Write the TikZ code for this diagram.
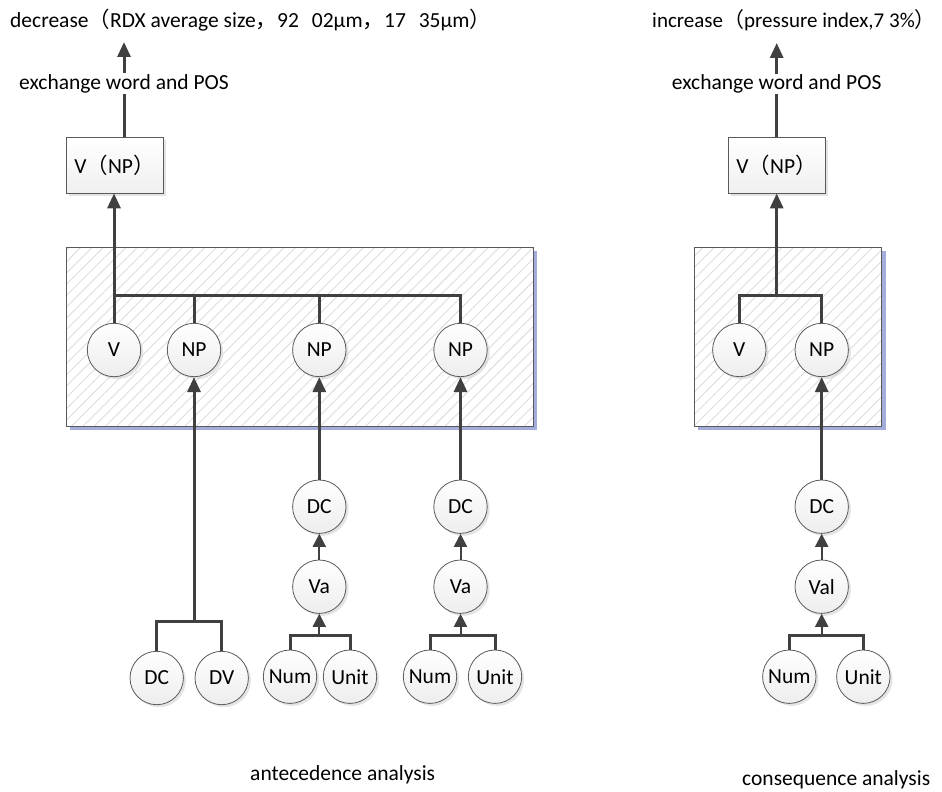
\documentclass[tikz,border=0pt]{standalone}
\usepackage{fontspec}
\setmainfont{Carlito}
\newfontfamily\cjk{Noto Sans CJK SC}
\usetikzlibrary{arrows.meta,shadows,patterns.meta,backgrounds}
\definecolor{ln}{HTML}{404040}
\definecolor{bd}{HTML}{5A5A5A}
\definecolor{bshadow}{HTML}{A3ACDA}
\definecolor{hatch}{HTML}{DDDDDD}
\newcommand{\lp}{{\cjk （}}
\newcommand{\rp}{{\cjk ）}}
\newcommand{\fc}{{\cjk ，}}
\begin{document}
\begin{tikzpicture}[x=1pt,y=-1pt,
  font=\fontsize{21.5}{25}\selectfont,
  circ/.style={circle,draw=bd,line width=0.8pt,minimum size=53.4pt,inner sep=0pt,
    top color=white,bottom color=gray!14,
    drop shadow={shadow xshift=2.5pt,shadow yshift=-2.5pt,fill=gray!35,opacity=0.6}},
  vbox/.style={rectangle,draw=bd,line width=0.8pt,minimum width=97pt,minimum height=56pt,inner sep=0pt,
    top color=white,bottom color=gray!12,
    drop shadow={shadow xshift=3pt,shadow yshift=-3pt,fill=gray!35,opacity=0.6}},
  frame/.style={rectangle,draw=bd,line width=0.8pt,inner sep=0pt,preaction={fill=white},
    pattern={Lines[angle=45,distance=8pt,line width=0.9pt]},pattern color=hatch},
  txt/.style={inner sep=0pt,anchor=west},
  lbl/.style={fill=white,inner sep=1pt},
  lnk/.style={draw=ln,line width=3pt},
  arr/.style={draw=ln,line width=3pt,-{Triangle[length=15pt,width=13pt]}},
  sarr/.style={draw=ln,line width=2pt,-{Triangle[length=13pt,width=13pt]}}
]
\useasboundingbox (0,0) rectangle (942,792);

% frames
\node[frame,minimum width=467pt,minimum height=179pt] (fr1) at (299.5,336.5) {};
\node[frame,minimum width=187.7pt,minimum height=179pt] (fr2) at (787.85,336.5) {};
\begin{scope}[on background layer]
  \fill[bshadow] ([shift={(4,4)}]fr1.north west) rectangle ([shift={(4,4)}]fr1.south east);
  \fill[bshadow] ([shift={(4,4)}]fr2.north west) rectangle ([shift={(4,4)}]fr2.south east);
\end{scope}

% top texts
\node[txt] (top1) at (10,20) {decrease\lp RDX average size\fc 92 \hspace{8pt}02μm\fc 17 \hspace{8pt}35μm\rp};
\node[txt,font=\fontsize{21}{25}\selectfont] (top2) at (652,20) {increase\lp pressure index,7 3\%\rp};

% V(NP) boxes
\node[vbox] (vnp1) at (114.5,165) {V\lp NP\rp};
\node[vbox] (vnp2) at (776.5,165) {V\lp NP\rp};

% circles left
\node[circ] (V1) at (114,350) {V};
\node[circ] (NP1) at (194,350) {NP};
\node[circ] (NP2) at (319.3,350) {NP};
\node[circ] (NP3) at (460.5,350) {NP};
\node[circ] (DC2) at (319.3,506.7) {DC};
\node[circ] (Va2) at (319.3,586.7) {Va};
\node[circ] (Num2) at (290,676.7) {Num};
\node[circ] (Unit2) at (350,676.7) {Unit};
\node[circ] (DC3) at (460.5,506.7) {DC};
\node[circ] (Va3) at (460.5,586.7) {Va};
\node[circ] (Num3) at (430,676.7) {Num};
\node[circ] (Unit3) at (495,676.7) {Unit};
\node[circ] (DCa) at (156.7,678) {DC};
\node[circ] (DV) at (221.7,678) {DV};

% circles right
\node[circ] (V4) at (739.3,350) {V};
\node[circ] (NP4) at (821.7,350) {NP};
\node[circ] (DC4) at (821.7,506.7) {DC};
\node[circ] (Val) at (821.7,586.7) {Val};
\node[circ] (Num4) at (789.3,676.7) {Num};
\node[circ] (Unit4) at (863.3,676.7) {Unit};

% top arrows
\coordinate (t1) at (124,42);
\coordinate (t2) at (776.7,43);
\draw[arr] (t1 |- vnp1.north) -- node[lbl,pos=0.56] (lab1) {exchange word and POS} (t1);
\draw[arr] (t2 |- vnp2.north) -- node[lbl,pos=0.56] (lab2) {exchange word and POS} (t2);

% left tree
\coordinate (b1) at (114,295);
\draw[lnk] (V1.north) -- (b1) -- (b1 -| NP3) -- (NP3.north);
\draw[lnk] (b1 -| NP1) -- (NP1.north);
\draw[lnk] (b1 -| NP2) -- (NP2.north);
\draw[arr] (b1) -- (b1 |- vnp1.south);

\coordinate (b2) at (194,621.7);
\draw[lnk] (DCa.north) |- (b2) -| (DV.north);
\draw[arr] (b2) -- (NP1.south);

\draw[arr] (DC2) -- (NP2.south);
\draw[arr] (DC3) -- (NP3.south);
\draw[sarr] (Va2) -- (DC2.south);
\draw[sarr] (Va3) -- (DC3.south);

\coordinate (b3) at (319.3,635);
\draw[lnk] (Num2.north) |- (b3) -| (Unit2.north);
\draw[sarr] (b3) -- (Va2.south);
\coordinate (b4) at (460.5,635);
\draw[lnk] (Num3.north) |- (b4) -| (Unit3.north);
\draw[sarr] (b4) -- (Va3.south);

% right tree
\coordinate (b5) at (776.7,295);
\draw[lnk] (V4.north) |- (b5) -| (NP4.north);
\draw[arr] (b5) -- (b5 |- vnp2.south);
\draw[arr] (DC4) -- (NP4.south);
\draw[sarr] (Val) -- (DC4.south);
\coordinate (b6) at (821.7,635);
\draw[lnk] (Num4.north) |- (b6) -| (Unit4.north);
\draw[sarr] (b6) -- (Val.south);

% bottom labels
\node[txt] (ant) at (250,775) {antecedence analysis};
\node[txt] (con) at (742,780) {consequence analysis};
\end{tikzpicture}
\end{document}
